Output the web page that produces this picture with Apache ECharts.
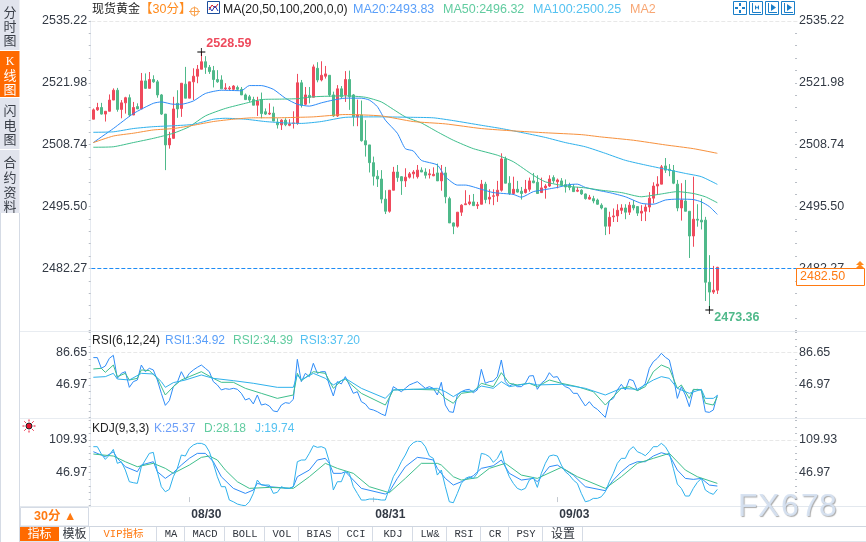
<!DOCTYPE html>
<html>
<head>
<meta charset="utf-8">
<title>现货黄金</title>
<script src="https://cdn.jsdelivr.net/npm/echarts@6/dist/echarts.min.js"></script>
<style>
html,body{margin:0;padding:0;background:#fff;}
#main{width:866px;height:542px;}
</style>
</head>
<body>
<div id="main"></div>
<script>
// 30分K线 数据
var opens = [2514.2,2516.2,2516.7,2515.3,2515.9,2518.3,2520.4,2516.3,2517.7,2518.8,2515.1,2516.9,2516.4,2522.4,2520.8,2522.7,2522.2,2519.4,2515.3,2508.7,
2510.1,2517.6,2516.5,2521.7,2518.7,2522.2,2523.4,2524.9,2526.5,2525.3,2524.6,2522.7,2522.6,2520.7,2520.7,2520.6,2521.0,2520.6,2519.4,2519.0,
2518.4,2517.2,2518.4,2515.8,2515.3,2515.5,2513.6,2513.0,2514.0,2512.9,2513.3,2513.3,2522.0,2517.4,2519.3,2518.9,2525.1,2522.6,2523.4,2523.6,
2519.4,2514.9,2520.7,2519.4,2522.7,2519.4,2514.7,2515.1,2509.6,2508.7,2504.9,2502.0,2501.4,2497.1,2494.5,2499.0,2502.9,2501.9,2501.0,2501.8,
2502.5,2501.9,2503.3,2502.9,2502.3,2502.1,2502.7,2501.0,2502.7,2497.2,2492.0,2491.3,2494.3,2495.9,2496.1,2496.5,2495.7,2496.0,2500.3,2497.1,
2497.7,2497.8,2499.0,2505.7,2500.5,2498.3,2499.2,2498.8,2498.5,2499.2,2501.0,2500.7,2498.5,2499.5,2499.9,2501.7,2500.8,2501.0,2500.2,2500.1,
2499.6,2498.8,2499.0,2498.2,2497.1,2497.2,2496.9,2495.8,2495.2,2491.3,2493.3,2493.5,2494.7,2495.2,2494.3,2495.8,2495.5,2494.1,2494.5,2495.4,
2497.3,2499.9,2500.3,2504.2,2503.5,2503.2,2500.3,2495.2,2496.7,2494.5,2489.2,2492.8,2492.6,2492.6,2479.3,2477.2,2477.6];
var closes = [2516.2,2516.7,2515.3,2515.9,2518.3,2520.4,2516.3,2517.7,2518.8,2515.1,2516.7,2516.4,2522.4,2520.8,2522.7,2522.2,2519.4,2515.3,2508.7,2510.1,
2516.4,2516.4,2521.9,2518.7,2522.2,2523.4,2524.9,2526.5,2525.3,2524.4,2522.7,2522.2,2520.7,2520.9,2520.9,2521.3,2520.6,2519.4,2518.4,2518.3,
2517.2,2518.1,2515.4,2515.3,2515.5,2513.8,2513.0,2514.0,2513.0,2513.2,2513.4,2522.0,2517.2,2519.4,2518.9,2525.4,2522.6,2523.6,2523.9,2519.4,
2514.9,2520.7,2519.0,2522.7,2519.0,2514.7,2515.1,2509.6,2508.7,2504.9,2502.0,2501.4,2497.1,2494.5,2499.0,2502.9,2501.7,2501.0,2501.8,2502.5,
2502.9,2503.3,2502.9,2502.2,2502.5,2502.4,2501.0,2502.7,2497.6,2492.0,2491.3,2494.3,2495.8,2496.1,2496.5,2495.7,2495.9,2500.3,2497.0,2497.5,
2497.8,2499.0,2505.7,2500.5,2498.3,2499.2,2498.6,2498.3,2499.2,2501.0,2500.6,2498.3,2499.5,2499.9,2501.4,2501.0,2501.2,2500.1,2499.7,2499.6,
2498.7,2499.0,2498.2,2497.2,2497.5,2496.7,2496.0,2495.2,2491.3,2493.2,2493.5,2494.7,2495.2,2494.3,2495.8,2495.2,2494.1,2494.5,2495.4,2497.3,
2499.9,2500.3,2504.0,2503.3,2503.2,2500.5,2495.2,2496.9,2494.5,2489.2,2492.8,2492.6,2492.2,2479.3,2477.2,2477.6,2482.5];
var lows = [2514.2,2516.0,2515.2,2513.7,2515.9,2518.3,2515.8,2514.4,2515.4,2514.7,2515.1,2516.4,2516.4,2520.7,2520.8,2522.0,2518.8,2515.1,2503.3,2507.9,
2510.1,2514.5,2514.7,2518.7,2518.7,2518.3,2521.9,2524.9,2523.9,2523.9,2521.0,2522.0,2520.7,2520.4,2520.4,2520.3,2520.3,2519.4,2518.3,2517.9,
2517.2,2514.9,2514.4,2515.1,2515.1,2513.8,2512.2,2511.9,2512.7,2512.7,2512.2,2513.0,2516.7,2517.2,2517.6,2518.9,2522.1,2522.3,2522.9,2519.0,
2514.7,2514.7,2518.7,2517.9,2516.2,2512.7,2512.7,2509.4,2506.2,2502.8,2500.0,2499.7,2496.2,2493.9,2494.2,2499.0,2500.8,2498.0,2499.7,2501.5,
2501.5,2501.5,2502.9,2501.5,2501.5,2502.0,2501.0,2498.9,2496.2,2492.0,2489.6,2491.0,2493.5,2495.9,2495.8,2495.7,2495.0,2496.0,2496.2,2496.0,
2495.8,2496.5,2498.7,2500.5,2498.0,2498.0,2498.5,2497.0,2498.3,2498.7,2500.5,2498.3,2498.5,2497.2,2499.7,2500.5,2499.4,2500.1,2498.5,2499.0,
2498.7,2498.6,2498.0,2497.0,2497.0,2496.2,2495.9,2494.9,2489.4,2489.6,2492.2,2492.2,2493.9,2492.8,2493.7,2494.7,2493.5,2492.4,2492.4,2494.3,
2496.2,2498.0,2500.3,2502.7,2502.0,2500.3,2494.5,2492.5,2494.5,2484.5,2486.9,2491.2,2490.6,2475.3,2473.36,2476.8,2476.8];
var highs = [2516.5,2517.7,2517.7,2515.9,2519.5,2520.8,2520.9,2518.3,2519.0,2519.5,2517.9,2517.6,2524.1,2524.0,2524.3,2523.6,2522.6,2519.6,2515.3,2511.5,
2519.0,2520.4,2521.9,2525.4,2522.2,2525.1,2525.8,2528.59,2527.7,2525.8,2525.6,2524.7,2523.6,2521.9,2521.3,2521.5,2521.4,2521.1,2519.7,2519.4,
2519.0,2519.0,2519.9,2516.5,2517.6,2516.9,2514.4,2514.2,2514.4,2514.2,2515.9,2523.9,2522.6,2521.1,2521.1,2525.9,2526.4,2526.6,2525.6,2523.6,
2520.1,2521.5,2521.3,2524.5,2524.6,2519.6,2518.4,2518.2,2514.0,2508.7,2506.2,2503.3,2503.3,2499.0,2499.0,2504.0,2504.4,2502.0,2503.7,2502.9,
2503.3,2504.4,2503.9,2503.7,2503.5,2503.9,2504.7,2504.4,2504.0,2497.6,2492.1,2494.3,2496.0,2499.0,2498.0,2498.2,2496.5,2501.2,2500.8,2499.2,
2499.2,2501.0,2506.9,2506.2,2502.0,2501.9,2501.0,2499.7,2501.2,2501.7,2502.7,2502.2,2501.7,2500.3,2502.2,2502.2,2501.5,2501.6,2501.3,2500.6,
2500.3,2499.7,2499.2,2498.3,2498.0,2497.8,2497.2,2496.2,2495.2,2494.4,2495.1,2496.0,2496.0,2496.0,2496.5,2496.9,2495.6,2495.8,2496.0,2498.6,
2500.7,2502.0,2504.4,2505.9,2504.6,2504.4,2501.2,2500.5,2501.2,2494.5,2501.9,2496.0,2497.2,2493.3,2485.1,2482.8,2482.6];

// 均线 [序号, 价格]
var ma20 = [[0,2509.2],[5,2512.2],[10,2515.4],[15,2517.6],[17,2517.9],[20,2517.4],[22,2517.4],[25,2518.1],[28,2519.7],[32,2520.4],[37,2520.3],[39,2521.4],[42,2521.4],[45,2520.6],[48,2518.7],[51,2517.4],[54,2517.0],[57,2517.7],[60,2518.3],[63,2518.7],[67,2518.7],[69,2518.3],[71,2516.9],[73,2514.0],[76,2511.2],[78,2507.9],[80,2507.4],[82,2505.4],[86,2504.4],[88,2501.9],[91,2500.1],[93,2500.1],[97,2499.2],[100,2498.5],[105,2498.1],[107,2497.5],[110,2498.7],[112,2499.0],[116,2499.6],[119,2500.2],[121,2500.3],[123,2499.6],[126,2499.0],[129,2498.5],[133,2497.6],[137,2496.2],[140,2496.0],[143,2496.9],[146,2497.1],[150,2497.0],[152,2496.5],[154,2495.5],[156,2493.83]];
var ma50 = [[0,2508.2],[5,2508.3],[10,2509.2],[15,2510.1],[20,2511.2],[24,2512.6],[28,2514.9],[33,2516.5],[38,2517.6],[42,2518.4],[47,2518.5],[51,2518.6],[55,2519.0],[63,2519.2],[68,2518.9],[72,2517.9],[75,2516.3],[78,2514.7],[82,2513.4],[86,2511.5],[90,2509.7],[95,2507.9],[101,2506.5],[105,2505.1],[110,2502.2],[113,2500.8],[118,2499.9],[123,2499.5],[127,2499.0],[132,2498.5],[137,2497.6],[139,2497.8],[142,2498.2],[146,2498.7],[150,2498.3],[153,2497.6],[156,2496.32]];
var ma100 = [[0,2511.4],[5,2511.5],[10,2512.2],[15,2512.6],[20,2512.8],[25,2513.1],[30,2514.2],[33,2514.4],[38,2514.2],[43,2513.7],[48,2513.4],[52,2513.3],[57,2513.7],[63,2514.6],[72,2514.7],[80,2514.6],[85,2514.5],[90,2513.9],[97,2512.9],[102,2512.2],[108,2511.2],[113,2510.3],[118,2509.2],[123,2508.3],[128,2506.9],[133,2505.4],[138,2504.4],[143,2503.5],[148,2502.6],[152,2501.9],[156,2500.25]];
var ma200 = [[0,2509.2],[5,2510.6],[10,2511.2],[15,2511.9],[20,2512.2],[25,2512.9],[30,2513.7],[35,2514.2],[40,2514.5],[46,2514.5],[51,2514.6],[55,2514.7],[63,2515.2],[72,2514.9],[80,2513.7],[88,2513.2],[97,2512.2],[105,2511.7],[113,2511.3],[122,2510.9],[127,2510.4],[135,2509.7],[143,2508.7],[150,2507.9],[156,2506.9]];

// RSI(6,12,24)
var rsi1 = [80.2,80.2,67.2,70.0,79.3,83.0,55.0,61.1,63.1,44.1,51.0,53.0,71.2,63.1,67.2,65.2,53.0,36.8,22.2,27.9,44.9,50.2,63.1,53.8,61.1,65.2,68.4,71.2,67.2,63.1,51.0,47.0,40.9,42.5,41.7,42.9,41.7,36.8,28.7,30.7,23.9,34.8,22.6,23.9,21.4,15.4,14.5,22.6,25.5,24.7,29.5,78.1,51.0,61.1,57.1,73.3,61.1,63.1,63.1,47.0,33.6,51.0,48.2,57.1,47.0,36.8,38.8,26.7,23.9,17.8,16.6,14.5,11.7,9.7,30.7,44.9,41.7,38.8,42.9,47.0,49.0,51.0,47.0,42.9,44.9,42.9,34.8,50.2,22.6,14.5,13.7,34.8,38.8,40.9,41.7,37.6,40.9,66.0,49.0,51.0,51.8,57.1,77.3,51.0,45.7,48.2,44.9,44.9,49.0,57.9,58.3,41.7,49.0,53.0,61.9,56.3,57.1,49.0,44.9,42.9,36.8,36.8,28.7,21.4,26.7,20.6,17.4,12.5,7.6,27.9,30.7,40.9,47.8,40.9,53.8,52.2,40.1,42.9,49.0,67.2,75.3,79.3,85.4,80.6,77.3,57.1,30.7,44.9,34.8,20.6,40.9,41.7,40.9,14.5,13.7,16.6,34.92];
var rsi2 = [[0,66.4],[2,67.2],[3,62.3],[5,71.2],[6,57.1],[8,61.1],[9,53.0],[11,55.0],[12,65.2],[14,64.4],[16,55.0],[18,34.8],[20,44.9],[22,53.0],[24,57.1],[27,63.1],[30,55.0],[32,50.2],[35,50.2],[38,42.9],[42,36.8],[46,30.7],[50,34.8],[51,61.1],[52,52.2],[55,63.1],[58,61.1],[60,42.9],[62,52.2],[63,53.8],[67,36.8],[73,22.6],[75,40.9],[80,41.7],[86,40.9],[88,30.7],[90,24.7],[92,36.8],[95,38.8],[97,49.0],[100,44.9],[102,61.9],[104,49.0],[106,47.0],[109,49.0],[111,44.9],[114,53.0],[117,49.0],[121,44.9],[125,38.8],[128,22.6],[130,32.8],[132,42.9],[134,44.9],[136,40.1],[138,44.9],[140,63.1],[142,71.2],[144,67.2],[146,42.9],[147,47.0],[149,30.7],[150,41.7],[152,40.9],[153,24.7],[155,22.6],[156,32.8]];
var rsi3 = [[0,56.3],[3,57.1],[5,61.1],[6,54.2],[9,53.0],[12,61.1],[15,60.3],[17,51.0],[18,44.1],[20,49.8],[23,53.0],[27,59.1],[30,55.0],[35,52.2],[40,49.0],[46,44.1],[50,44.1],[51,59.1],[52,53.0],[55,61.1],[58,55.0],[60,47.0],[63,55.0],[67,42.9],[73,30.7],[75,40.9],[80,41.7],[86,42.9],[88,38.8],[90,32.8],[92,38.8],[95,39.7],[97,45.7],[100,42.9],[102,51.0],[104,44.9],[109,49.0],[111,47.0],[117,47.8],[123,42.9],[128,34.8],[132,42.9],[136,41.7],[140,53.0],[142,57.1],[144,55.0],[146,42.9],[149,36.8],[152,41.7],[153,30.7],[155,30.7],[156,34.0]];

// KDJ(9,3,3)
var kdjK = [[0,87.4],[2,81.0],[3,77.8],[5,87.4],[6,74.6],[8,58.5],[11,48.9],[12,61.7],[15,68.1],[16,48.9],[18,36.0],[20,47.0],[22,61.7],[24,74.6],[26,84.2],[28,84.2],[30,68.1],[32,39.2],[35,16.8],[38,7.1],[40,13.6],[41,26.4],[44,20.0],[49,16.8],[50,20.0],[51,39.2],[54,52.1],[56,71.4],[58,74.6],[59,65.0],[60,45.7],[62,45.7],[63,48.9],[65,32.8],[67,16.8],[73,5.8],[74,10.3],[76,36.0],[78,58.5],[81,76.5],[83,74.6],[85,71.4],[86,55.3],[88,36.0],[90,23.2],[92,29.6],[95,41.2],[97,55.3],[100,60.4],[102,71.4],[104,45.7],[107,32.8],[110,36.0],[111,29.6],[114,58.5],[116,61.7],[120,42.4],[123,20.0],[128,12.3],[130,32.8],[132,48.9],[134,61.7],[136,68.1],[138,68.1],[140,79.1],[142,85.5],[144,81.0],[146,52.1],[148,36.0],[150,34.1],[152,36.0],[154,23.2],[156,21.2]];
var kdjD = [[0,82.9],[5,79.1],[8,68.1],[11,58.5],[15,65.0],[18,55.3],[20,45.7],[24,61.7],[27,76.5],[29,79.1],[31,71.4],[33,52.1],[36,29.6],[39,16.8],[44,18.7],[50,16.8],[54,39.2],[58,65.0],[61,55.3],[65,45.7],[69,20.0],[74,8.4],[78,36.0],[82,65.0],[86,65.0],[87,61.7],[90,39.2],[92,32.8],[96,37.3],[99,55.3],[103,65.0],[107,42.4],[111,36.0],[117,57.2],[121,39.2],[128,16.8],[132,39.2],[136,65.0],[140,74.6],[144,84.2],[148,52.1],[151,39.2],[156,26.4]];
var kdjJ = [97.1,97.1,82.9,72.6,81.0,91.9,65.0,68.1,52.1,29.6,27.7,26.4,58.5,71.4,84.2,86.1,48.9,20.0,10.3,14.8,39.2,55.3,81.0,79.1,93.8,100.3,103.5,103.5,100.3,87.4,65.0,39.2,20.0,20.0,-5.7,-9.0,-13.4,-15.4,-16.7,-9.0,7.1,32.8,23.2,23.2,23.2,7.1,9.1,20.0,16.8,16.8,20.0,68.1,71.4,71.4,84.2,99.0,95.8,97.1,93.8,68.1,13.6,29.6,29.6,48.9,45.7,20.0,7.1,-5.7,-5.7,-3.8,-3.8,-4.4,-5.7,-5.7,16.8,39.2,52.1,68.1,81.0,97.1,104.8,108.0,106.7,97.1,79.1,74.6,42.4,52.1,20.0,-9.0,-10.9,7.1,26.4,36.0,39.2,36.0,45.7,84.2,82.3,77.8,66.9,74.6,89.3,58.5,39.2,26.4,16.8,13.6,16.8,32.8,38.0,18.7,45.7,65.0,79.1,81.0,79.1,61.7,48.9,42.4,32.8,26.4,7.1,-9.0,-7.0,-2.5,-2.5,0.7,10.3,29.6,45.7,65.0,74.6,74.6,90.6,97.1,87.4,84.2,79.7,87.4,97.1,97.1,103.5,97.1,84.2,55.3,25.1,16.8,2.0,2.0,16.8,28.3,36.0,13.6,8.4,5.2,14.8];

// 坐标刻度
var priceTicks = [2535.22,2521.98,2508.74,2495.50,2482.27];
var rsiTicks = [86.65,46.97];
var kdjTicks = [109.93,46.97];
var xTickIndex = [24,70,116];
var xTickLabels = ['08/30','08/31','09/03'];
var highIndex = 27, highPrice = 2528.59;
var lowIndex = 154, lowPrice = 2473.36;
var lastPrice = 2482.50, priceLine = 2482.27;

var RED = '#ef4a5c', GREEN = '#4fb98a', BLUE = '#2e8cf8', TEAL = '#3fbf8d', SKY = '#2fb1ec', ORANGE = '#f7913d';
var FONT = '"Liberation Sans","Noto Sans CJK SC",sans-serif';
var SLOTS = 177; // 右边留空

var categories = [];
for (var i = 0; i < SLOTS; i++) {
    var at = xTickIndex.indexOf(i);
    categories.push(at >= 0 ? xTickLabels[at] : '');
}
var candles = [];
for (var n = 0; n < opens.length; n++) {
    candles.push([opens[n], closes[n], lows[n], highs[n]]);
}
function showTick(idx) { return xTickIndex.indexOf(idx) >= 0; }

// 小刻度
function subTicks(from, step, min, max) {
    var out = [];
    for (var v = from; v >= min; v -= step) out.push(+v.toFixed(3));
    for (var u = from + step; u <= max; u += step) out.push(+u.toFixed(3));
    return out;
}

function yAxes(grid, min, max, labels, tickList) {
    function one(pos, off, hasLine) {
        return {
            type: 'value', gridIndex: grid, position: pos, offset: off, min: min, max: max, scale: true,
            splitLine: {show: false},
            axisLine: {show: hasLine, onZero: false, lineStyle: {color: '#e6eaf0'}},
            axisTick: {show: true, length: 2, inside: pos === 'right', customValues: tickList, lineStyle: {color: '#b9bec6'}},
            axisLabel: {
                show: true, customValues: labels, margin: pos === 'left' ? 3.5 : 2,
                color: '#333a45', fontSize: 12.5, fontFamily: FONT,
                formatter: function (v) { return v.toFixed(2); }
            }
        };
    }
    return [one('left', 0.6, true), one('right', -2.3, false)];
}

function line(name, data, color, xi, yi, extra) {
    var s = {
        name: name, type: 'line', xAxisIndex: xi, yAxisIndex: yi, data: data,
        showSymbol: false, symbol: 'none', silent: true, z: 4,
        lineStyle: {width: 1, color: color}
    };
    if (extra) for (var k in extra) s[k] = extra[k];
    return s;
}
function topDash(v) {
    return {silent: true, symbol: 'none', label: {show: false}, animation: false,
        lineStyle: {type: 'dashed', color: '#e8e8e8', width: 1}, data: [{yAxis: v}]};
}

// 外框 文字 图标
var parts = [];
function txt(x, y, s, color, size, align, weight, family) {
    parts.push({type: 'text', silent: true, z: 60, style: {
        x: x, y: y, text: s, fill: color, textAlign: align || 'left', textVerticalAlign: 'middle',
        font: (weight || 'normal') + ' ' + (size || 12.5) + 'px ' + (family || FONT)
    }});
}
function box(x, y, w, h, fill, stroke) {
    parts.push({type: 'rect', silent: true, z: 50, shape: {x: x, y: y, width: w, height: h},
        style: {fill: fill || 'none', stroke: stroke || 'none', lineWidth: 1}});
}
function seg(x1, y1, x2, y2, color, width) {
    parts.push({type: 'line', silent: true, z: 51, shape: {x1: x1, y1: y1, x2: x2, y2: y2},
        style: {stroke: color, lineWidth: width || 1}});
}

// 分隔线
seg(20, 331.5, 866, 331.5, '#e8ecf1');
seg(20, 418.5, 866, 418.5, '#e8ecf1');
seg(20, 506.5, 866, 506.5, '#e3e8ee');

// 左侧标签
box(0, 0, 19.5, 50, '#e1e4ed');
box(0, 51, 19.5, 46, '#ff6a00');
box(0, 98, 19.5, 51, '#e1e4ed');
box(0, 150, 19.5, 63, '#e1e4ed');
seg(0.5, 213, 0.5, 542, '#d5dbe5');
seg(19.5, 213, 19.5, 542, '#d5dbe5');
var sideTabs = [['分', 13], ['时', 27], ['图', 41], ['闪', 111], ['电', 126], ['图', 140], ['合', 163], ['约', 178], ['资', 193], ['料', 207]];
sideTabs.forEach(function (t) { txt(10, t[1], t[0], '#3a3f48', 13, 'center'); });
txt(10, 62, 'K', '#fff', 12, 'center', 'normal', '"Liberation Serif"');
txt(10, 76, '线', '#fff', 13, 'center');
txt(10, 90, '图', '#fff', 13, 'center');

// 标题行
txt(92, 10, '现货黄金', '#222', 12);
txt(140, 10, '【30分】', '#ff8a1c', 12.5);
parts.push({type: 'circle', silent: true, z: 55, shape: {cx: 194.5, cy: 11.5, r: 4}, style: {fill: 'none', stroke: '#f9a24e'}});
seg(189, 11.5, 200, 11.5, '#f9a24e');
seg(194.5, 6.5, 194.5, 16.5, '#f9a24e');
box(207.5, 1.5, 12, 12, '#fff', '#1c4f9c');
parts.push({type: 'polyline', silent: true, z: 55, shape: {points: [[209, 10], [212, 5], [215, 8], [218, 4]]}, style: {fill: 'none', stroke: '#d8232a'}});
parts.push({type: 'polyline', silent: true, z: 55, shape: {points: [[209, 7], [212, 11], [215, 6], [218, 11]]}, style: {fill: 'none', stroke: '#2038b0'}});
txt(223, 10, 'MA(20,50,100,200,0,0)', '#222', 12.2);
txt(353, 10, 'MA20:2493.83', '#5a9ff9', 12.5);
txt(443, 10, 'MA50:2496.32', '#62cca0', 12.5);
txt(533, 10, 'MA100:2500.25', '#55c2f1', 12.5);
txt(630, 10, 'MA2', '#f8a673', 12.5);

// 右上按钮
[733, 749, 765, 781].forEach(function (x, idx) {
    box(x + 0.5, 1.5, 13, 13, '#fff', '#1b7fc9');
    if (idx === 0) {
        seg(x + 7, 3, x + 7, 6, '#1b7fc9', 2); seg(x + 7, 10, x + 7, 13, '#1b7fc9', 2);
        seg(x + 2, 8, x + 5, 8, '#1b7fc9', 2); seg(x + 9, 8, x + 12, 8, '#1b7fc9', 2);
    } else {
        seg(x + 3.5, 3, x + 3.5, 12.5, '#1b7fc9', 1);
        seg(x + 3.5, 12.5, x + 12, 12.5, '#1b7fc9', 1);
        parts.push({type: 'polygon', silent: true, z: 55, shape: {points: idx === 1
            ? [[x + 6, 5], [x + 6, 10], [x + 8, 7.5], [x + 10, 10], [x + 10, 5], [x + 8, 7.5]]
            : [[x + 6, 4], [x + 6, 11], [x + 11, 7.5]]}, style: {fill: '#1b7fc9'}});
    }
});

// 指标标题
txt(92, 340.5, 'RSI(6,12,24)', '#222', 12);
txt(165, 340.5, 'RSI1:34.92', '#5a9ff9', 12);
txt(233, 340.5, 'RSI2:34.39', '#62cca0', 12);
txt(300, 340.5, 'RSI3:37.20', '#55c2f1', 12);
txt(92, 428.5, 'KDJ(9,3,3)', '#222', 12);
txt(154, 428.5, 'K:25.37', '#6d9ff8', 12);
txt(204, 428.5, 'D:28.18', '#62cca0', 12);
txt(255, 428.5, 'J:19.74', '#55c2f1', 12);

// 小太阳
parts.push({type: 'circle', silent: true, z: 55, shape: {cx: 29, cy: 426, r: 3}, style: {fill: '#e8112d', stroke: '#222', lineWidth: 1}});
[[4.5, 0], [3.2, 3.2], [0, 4.5], [-3.2, 3.2], [-4.5, 0], [-3.2, -3.2], [0, -4.5], [3.2, -3.2]].forEach(function (d) {
    seg(29 + d[0], 426 + d[1], 29 + d[0] * 1.45, 426 + d[1] * 1.45, '#e8112d');
});

// 周期
box(20.5, 507.5, 68, 18.5, '#fff', '#d5dbe5');
txt(34, 516.5, '30分 ▲', '#ff7a12', 12.5, 'left', 'bold');

// 底部工具栏
seg(20, 526.5, 866, 526.5, '#cfd6e0');
seg(20, 541.5, 866, 541.5, '#dfe4ea');
box(20, 527, 39, 14.5, '#ff6a00');
txt(39.5, 534.5, '指标', '#fff', 12, 'center');
var toolTabs = [['模板', 59, 90], ['VIP指标', 90, 157], ['MA', 157, 185], ['MACD', 185, 225], ['BOLL', 225, 265], ['VOL', 265, 299], ['BIAS', 299, 339], ['CCI', 339, 373], ['KDJ', 373, 413], ['LW&', 413, 447], ['RSI', 447, 481], ['CR', 481, 509], ['PSY', 509, 543], ['设置', 543, 583]];
toolTabs.forEach(function (t) {
    var cjk = t[0] === '模板' || t[0] === '设置';
    txt((t[1] + t[2]) / 2, 534.5, t[0], t[0] === 'VIP指标' ? '#ff7a12' : '#30353d', cjk ? 12 : 10.5, 'center', 'normal',
        cjk ? FONT : '"Liberation Mono","Noto Sans CJK SC",monospace');
    seg(t[2] - 0.5, 527, t[2] - 0.5, 541, '#d5dbe5');
});

// 现价框
box(796.5, 268.5, 68, 17, '#fff', '#ff7a12');
txt(800, 277, lastPrice.toFixed(2), '#ff7a12', 12.5);
parts.push({type: 'polygon', silent: true, z: 55, shape: {points: [[860, 261], [864, 265], [856, 265]]}, style: {fill: '#ff8a1c'}});
parts.push({type: 'polygon', silent: true, z: 55, shape: {points: [[860, 264], [864, 268], [856, 268]]}, style: {fill: '#ff8a1c'}});

// 水印
['F', 'X', '6', '7', '8'].forEach(function (c, idx) {
    parts.push({type: 'text', silent: true, z: 70, style: {
        x: [738, 758, 781, 801, 819][idx], y: 507.5, text: c, textVerticalAlign: 'middle',
        fill: 'rgba(214,226,241,0.95)', font: 'normal 32px "Liberation Sans"',
        textShadowColor: 'rgba(130,130,130,0.7)', textShadowBlur: 1, textShadowOffsetX: 1, textShadowOffsetY: 1
    }});
});

var PLUS = 'path://M0 45H100V55H0ZM45 0H55V100H45Z';
var option = {
    animation: false,
    backgroundColor: '#fff',
    grid: [
        {left: 91.33, top: 21, width: 708, height: 310},
        {left: 91.33, top: 332, width: 708, height: 86},
        {left: 91.33, top: 419, width: 708, height: 88}
    ],
    xAxis: [
        {type: 'category', gridIndex: 0, data: categories, boundaryGap: true, show: false},
        {type: 'category', gridIndex: 1, data: categories, boundaryGap: true, show: false},
        {
            type: 'category', gridIndex: 2, data: categories, boundaryGap: true,
            axisLine: {show: false},
            axisTick: {show: true, alignWithLabel: true, interval: showTick, length: 5, lineStyle: {color: '#c4c9d0'}},
            axisLabel: {
                show: true, interval: showTick, hideOverlap: false, align: 'left', margin: 2,
                padding: [0, 0, 0, 2], color: '#333a45', fontSize: 12, fontWeight: 'bold', fontFamily: FONT
            }
        }
    ],
    yAxis: [].concat(
        yAxes(0, 2468.87, 2535.22, priceTicks, subTicks(2535.22, 2.648, 2468.87, 2535.22)),
        yAxes(1, 6.85, 111.3, rsiTicks, subTicks(86.65, 7.936, 6.85, 111.3)),
        yAxes(2, -19.1, 150.4, kdjTicks, subTicks(109.93, 12.592, -19.1, 150.4))
    ),
    graphic: {elements: parts},
    series: [
        {
            name: 'K', type: 'candlestick', xAxisIndex: 0, yAxisIndex: 0, data: candles, silent: true,
            barWidth: 3, z: 2,
            itemStyle: {color: RED, color0: GREEN, borderColor: RED, borderColor0: GREEN, borderWidth: 1},
            markLine: {
                silent: true, symbol: 'none', label: {show: false}, animation: false,
                data: [
                    {yAxis: priceLine, lineStyle: {type: 'dashed', color: '#1e8cf5', width: 1}},
                    {yAxis: 2535.22, lineStyle: {type: 'dashed', color: '#e8e8e8', width: 1}}
                ]
            },
            markPoint: {
                silent: true, animation: false, symbol: PLUS, symbolSize: 8, itemStyle: {color: '#000'},
                data: [
                    {coord: [highIndex, highPrice], label: {show: true, position: 'right', offset: [-4, -8], formatter: highPrice.toFixed(2), color: '#ee4a5c', fontSize: 12.5, fontWeight: 'bold', fontFamily: FONT}},
                    {coord: [lowIndex, lowPrice], label: {show: true, position: 'right', offset: [-4, 8], formatter: lowPrice.toFixed(2), color: '#4fb98a', fontSize: 12.5, fontWeight: 'bold', fontFamily: FONT}}
                ]
            }
        },
        line('MA20', ma20, BLUE, 0, 0, {smooth: 0.2}),
        line('MA50', ma50, TEAL, 0, 0, {smooth: 0.2}),
        line('MA100', ma100, SKY, 0, 0, {smooth: 0.2}),
        line('MA200', ma200, ORANGE, 0, 0, {smooth: 0.2}),
        line('RSI1', rsi1, BLUE, 1, 2, {markLine: topDash(rsiTicks[0])}),
        line('RSI2', rsi2, TEAL, 1, 2),
        line('RSI3', rsi3, SKY, 1, 2),
        line('K', kdjK, BLUE, 2, 4, {markLine: topDash(kdjTicks[0])}),
        line('D', kdjD, TEAL, 2, 4),
        line('J', kdjJ, SKY, 2, 4)
    ]
};
var myChart = echarts.init(document.getElementById('main'));
myChart.setOption(option);
</script>
</body>
</html>
